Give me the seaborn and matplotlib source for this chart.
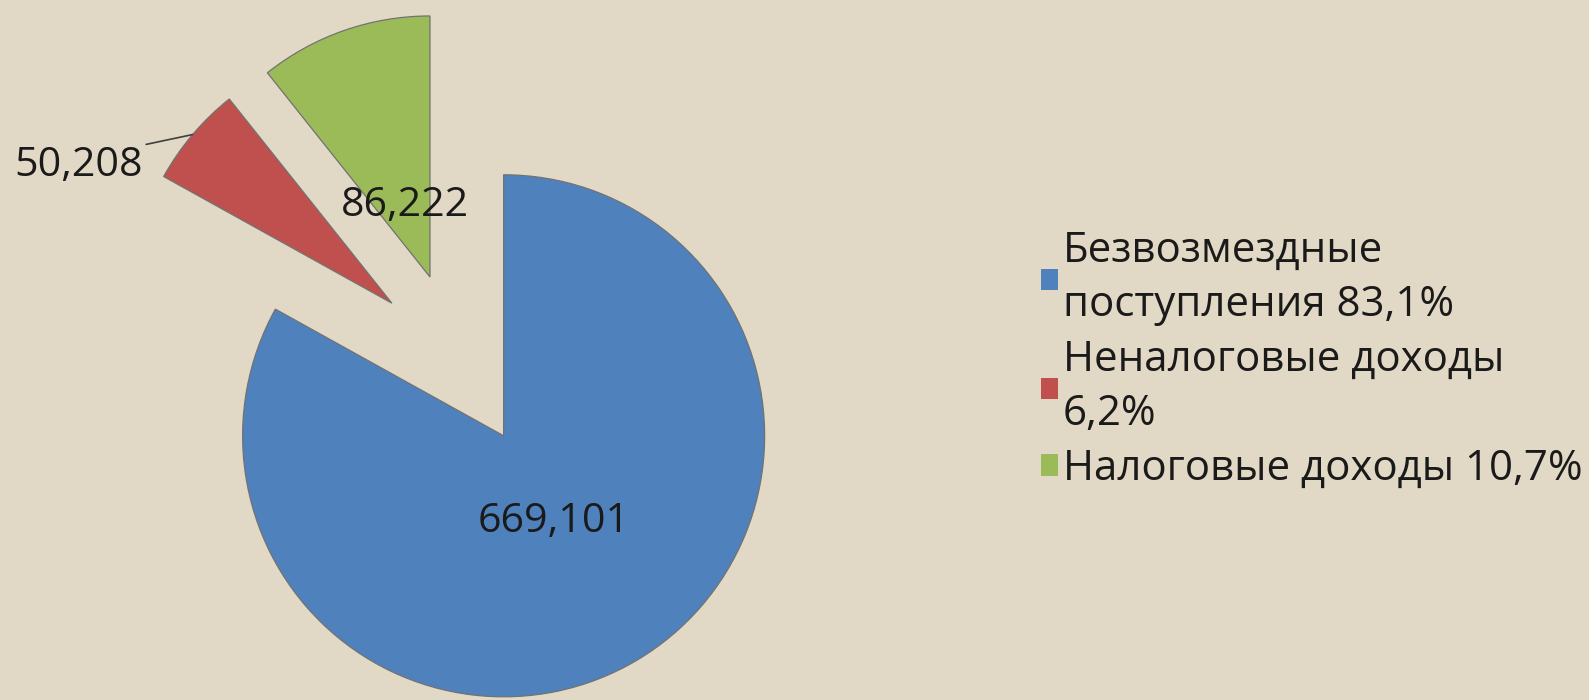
import numpy as np
import matplotlib
matplotlib.use("Agg")
import matplotlib.pyplot as plt
from matplotlib.patches import Patch
from matplotlib.font_manager import FontProperties
import seaborn as sns

# ---- data ----
categories = ["Безвозмездные поступления", "Неналоговые доходы", "Налоговые доходы"]
legend_labels = ["Безвозмездные\nпоступления 83,1%", "Неналоговые доходы\n6,2%", "Налоговые доходы 10,7%"]
values = [669.101, 50.208, 86.222]
value_labels = ["669,101", "50,208", "86,222"]

# ---- style ----
colors = ["#4F81BD", "#C0504D", "#9BBB59"]
explode = [0.337, 0.337, 0.337]
bg = "#E1D8C5"
txt_col = "#1a1a1a"

sns.set_theme(style="white")
FAM = ["Open Sans", "DejaVu Sans"]
plt.rcParams["font.family"] = FAM

W, H = 1589, 700
DPI = 100
fig = plt.figure(figsize=(W / DPI, H / DPI), dpi=DPI)
fig.patch.set_facecolor(bg)
renderer = fig.canvas.get_renderer()


def text_width_px(s, size):
    fp = FontProperties(family=FAM, size=size)
    w, h, d = renderer.get_text_width_height_descent(s, fp, ismath=False)
    return w


def fit_size(s, target_px, start=30.0):
    size = start
    for _ in range(6):
        size *= target_px / text_width_px(s, size)
    return size


# axes so that 1 data unit = R px, pie centre at (cx, cy) px
R = 261.0
cx, cy = 459.0, H - 360.0
span = 2.2
ax = fig.add_axes([(cx - span * R) / W, (cy - span * R) / H, 2 * span * R / W, 2 * span * R / H])

wedges, _ = ax.pie(values, colors=colors, explode=explode, startangle=90, counterclock=False,
                   radius=1.0, wedgeprops=dict(edgecolor="#727272", linewidth=0.9),
                   frame=False)
ax.set_xlim(-span, span)
ax.set_ylim(-span, span)
ax.set_aspect("equal")
ax.axis("off")
for w in wedges:
    w.set_clip_on(False)


def polar(w, r, ang_offset=0.0):
    mid = np.deg2rad((w.theta1 + w.theta2) / 2 + ang_offset)
    x0, y0 = w.center
    return x0 + r * np.cos(mid), y0 + r * np.sin(mid)


fs_lab = fit_size(value_labels[0], 152)
# blue label inside
x, y = polar(wedges[0], 0.38)
ax.text(x, y, value_labels[0], ha="center", va="center", fontsize=fs_lab, color=txt_col)
# green label
x, y = polar(wedges[2], 0.29)
ax.text(x, y, value_labels[2], ha="center", va="center", fontsize=fs_lab, color=txt_col)
# red label outside with leader line
tx, ty = polar(wedges[1], 1.31, 16.6)
ax.annotate(value_labels[1], xy=polar(wedges[1], 1.0), xytext=(tx, ty),
            ha="center", va="center", fontsize=fs_lab, color=txt_col,
            arrowprops=dict(arrowstyle="-", color="#404040", lw=1.2,
                            relpos=(0.9, 0.95), shrinkA=0, shrinkB=0),
            annotation_clip=False)

# legend
fs_leg = fit_size(legend_labels[2], 519)
fp_leg = FontProperties(family=FAM, size=fs_leg)
_, lp_h, lp_d = renderer.get_text_width_height_descent("lp", fp_leg, ismath=False)
line_px = 54.5
fs_px = fs_leg * DPI / 72.0
linesp = (line_px - lp_d) / (lp_h - lp_d)
labsp = max(0.0, (line_px - lp_h) / fs_px)

handles = [Patch(facecolor=c, edgecolor="none") for c in colors]
leg = fig.legend(handles, legend_labels, loc="center left",
                 bbox_to_anchor=(1041 / W, (H - 360) / H), frameon=False,
                 fontsize=fs_leg, handlelength=17 / fs_px, handleheight=17 / fs_px,
                 handletextpad=5 / fs_px,
                 labelspacing=labsp, borderpad=0, borderaxespad=0)
for t in leg.get_texts():
    t.set_color(txt_col)
    t.set_linespacing(linesp)

fig.savefig("out.png", dpi=DPI, facecolor=bg)
